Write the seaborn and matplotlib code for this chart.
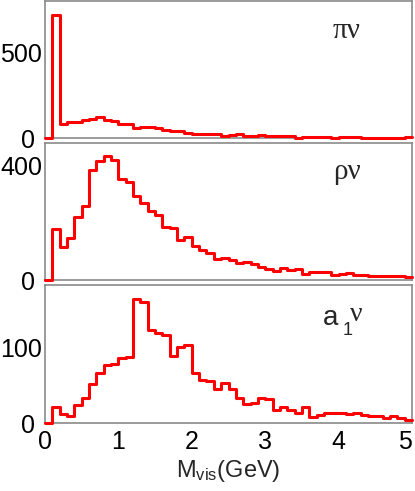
import numpy as np
import pandas as pd
import matplotlib
matplotlib.use("Agg")
import matplotlib.pyplot as plt
from matplotlib.ticker import MultipleLocator, NullFormatter, FixedLocator, FixedFormatter
import seaborn as sns

# visible mass histograms, 50 bins of 0.1 GeV between 0 and 5 GeV
mvis_edges = np.linspace(0.0, 5.0, 51)

pinu_counts = [0, 720, 84, 94, 94, 105, 113, 123, 105, 100,
               80, 80, 57, 64, 64, 61, 45, 43, 39, 27,
               23, 23, 23, 25, 12, 16, 21, 12, 14, 18,
               14, 10, 10, 12, 2, 6, 6, 4, 4, 2,
               4, 6, 4, 2, 2, 2, 2, 2, 2, 4]

rhonu_counts = [0, 177, 117, 148, 222, 260, 387, 418, 434, 420,
                355, 344, 295, 271, 241, 228, 187, 181, 140, 152,
                119, 105, 96, 72, 78, 70, 58, 62, 56, 47,
                38, 33, 42, 35, 40, 21, 27, 28, 28, 17,
                20, 23, 19, 16, 14, 14, 13, 13, 14, 10]

a1nu_counts = [0, 21, 12, 10, 24, 34, 52, 67, 77, 79,
               87, 88, 165, 160, 123, 119, 117, 89, 101, 103,
               67, 57, 56, 46, 53, 46, 34, 26, 27, 33,
               32, 18, 22, 18, 13, 22, 8, 11, 14, 14,
               13, 12, 13, 11, 9, 9, 7, 10, 7, 5]

x_ticks = [0, 1, 2, 3, 4, 5]
y_major = [500, 400, 100]
y_minor = [250, 50, 20]
y_top = [800, 480, 183]

sns.set_theme(style="white")
plt.rcParams['font.family'] = ['Liberation Sans', 'DejaVu Sans']
plt.rcParams['mathtext.fontset'] = 'custom'
plt.rcParams['mathtext.rm'] = 'Liberation Sans'
plt.rcParams['mathtext.it'] = 'Liberation Sans:italic'

fig = plt.figure(figsize=(4.15, 4.91), dpi=100)
left, width = 45 / 415, 367 / 415
boxes = [(left, 353 / 491, width, 137 / 491),
         (left, 211 / 491, width, 137 / 491),
         (left, 67.7 / 491, width, 138.3 / 491)]

centers = 0.5 * (mvis_edges[:-1] + mvis_edges[1:])
axes = []
for box, counts, major, minor, top in zip(boxes, [pinu_counts, rhonu_counts, a1nu_counts],
                                          y_major, y_minor, y_top):
    ax = fig.add_axes(box)
    df = pd.DataFrame({'mvis': centers, 'n': counts})
    sns.histplot(data=df, x='mvis', weights='n', binwidth=0.1, binrange=(0, 5),
                 element="step", fill=False, color="#ff0000", linewidth=2.2,
                 clip_on=False, zorder=5, ax=ax)
    ax.set_xlim(0, 5)
    ax.set_ylim(0, top)
    ax.set_xlabel("")
    ax.set_ylabel("")
    ax.set_xticks(x_ticks)
    ax.xaxis.set_minor_locator(MultipleLocator(0.1))
    ax.yaxis.set_major_locator(FixedLocator([0, major]))
    ax.yaxis.set_major_formatter(FixedFormatter(["0 ", str(major)]))
    ax.yaxis.set_minor_locator(MultipleLocator(minor))
    ax.tick_params(axis='both', which='both', direction='in', color='#555555',
                   width=1, labelsize=18, labelcolor='black')
    ax.tick_params(axis='x', which='major', length=6, pad=5)
    ax.tick_params(axis='y', which='major', length=7, pad=2)
    ax.tick_params(axis='both', which='minor', length=2.5)
    for side in ['left', 'right', 'top', 'bottom']:
        ax.spines[side].set_color('#8a8a8a')
        ax.spines[side].set_linewidth(1.2)
    axes.append(ax)

axes[0].xaxis.set_major_formatter(NullFormatter())
axes[1].xaxis.set_major_formatter(NullFormatter())
xlabels = axes[2].set_xticklabels([str(t) for t in x_ticks])
xlabels[-1].set_horizontalalignment('right')
axes[2].set_xlabel(r'M$_{\rm vis}$(GeV)', fontsize=17, labelpad=3)

# decay channel labels
axes[0].text(0.784, 0.73, 'πν', family='Liberation Serif', fontsize=21,
             transform=axes[0].transAxes, va='baseline')
axes[1].text(0.784, 0.734, 'ρν', family='Liberation Serif', fontsize=21,
             transform=axes[1].transAxes, va='baseline')
axes[2].text(0.758, 0.711, 'a', fontsize=20,
             transform=axes[2].transAxes, va='baseline')
axes[2].text(0.810, 0.635, '1', fontsize=13,
             transform=axes[2].transAxes, va='baseline')
axes[2].text(0.831, 0.74, 'ν', family='Liberation Serif', fontsize=20,
             transform=axes[2].transAxes, va='baseline')

plt.savefig('out.png', dpi=100)
